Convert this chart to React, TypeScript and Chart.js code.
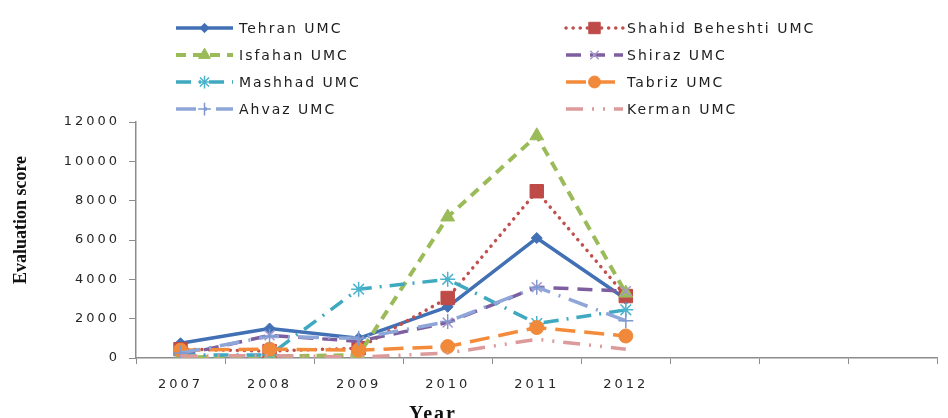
import React, { useEffect, useRef } from 'react';
import { Chart, registerables } from 'chart.js';
import { drawPoint } from 'chart.js/helpers';

Chart.register(...registerables);

// ---- data ----
const years = ['2007', '2008', '2009', '2010', '2011', '2012', '', '', ''];
const seriesNames = [
  'Tehran UMC',
  'Shahid Beheshti UMC',
  'Isfahan UMC',
  'Shiraz UMC',
  'Mashhad UMC',
  'Tabriz UMC',
  'Ahvaz UMC',
  'Kerman UMC',
];
const tehran = [750, 1500, 1000, 2600, 6100, 3000];
const shahidBeheshti = [450, 350, 500, 3050, 8480, 3150];
const isfahan = [30, 80, 150, 7170, 11300, 3300];
const shiraz = [150, 1150, 850, 1800, 3600, 3400];
const mashhad = [150, 150, 3500, 4000, 1750, 2450];
const tabriz = [400, 450, 400, 580, 1550, 1120];
const ahvaz = [250, 1100, 1000, 1850, 3600, 1900];
const kerman = [100, 120, 50, 250, 950, 450];
const yMin = 0;
const yMax = 12000;
const yStep = 2000;
const xTitle = 'Year';
const yTitle = 'Evaluation score';

const seriesValues = [tehran, shahidBeheshti, isfahan, shiraz, mashhad, tabriz, ahvaz, kerman];

// ---- styles ----
const styles: any[] = [
  { color: '#4170B4', width: 3.5, dash: [], cap: 'butt', point: 'rectRot', r: 5.5, pbg: '#4170B4', pbc: '#4170B4', pbw: 1 },
  { color: '#C0504D', width: 3.5, dash: [0.1, 7], cap: 'round', point: 'rect', r: 9.5, pbg: '#BE4B48', pbc: '#BE4B48', pbw: 1 },
  { color: '#9BBB59', width: 4, dash: [10, 7], cap: 'butt', point: 'triangle', r: 8, pbg: '#9BBB59', pbc: '#9BBB59', pbw: 1 },
  { color: '#7D5FA0', width: 3.5, dash: [15, 9], cap: 'butt', point: 'crossRot', r: 7, pbg: 'rgba(0,0,0,0)', pbc: '#A797CC', pbw: 1.5 },
  { color: '#3FA9C0', width: 3.5, dash: [15, 8, 2, 8], cap: 'butt', point: 'star', r: 7.5, pbg: 'rgba(0,0,0,0)', pbc: '#4BB3CC', pbw: 1.5 },
  { color: '#F38B3B', width: 3.5, dash: [20, 9], cap: 'butt', point: 'circle', r: 7, pbg: '#F0893A', pbc: '#F0893A', pbw: 1 },
  { color: '#8FA6D8', width: 3.5, dash: [20, 9, 2, 9], cap: 'butt', point: 'cross', r: 7.5, pbg: 'rgba(0,0,0,0)', pbc: '#7F98D0', pbw: 1.5 },
  { color: '#DC9A9A', width: 3.5, dash: [17, 9, 2, 9, 2, 9], cap: 'butt', point: false, r: 0, pbg: '#DC9A9A', pbc: '#DC9A9A', pbw: 0 },
];

const letterSpacingPlugin = {
  id: 'letterSpacingPlugin',
  beforeDraw(chart: any) {
    (chart.ctx as any).letterSpacing = '3px';
  },
};

const legendAndTitlesPlugin = {
  id: 'legendAndTitles',
  afterDraw(chart: any) {
    const ctx = chart.ctx as any;
    ctx.save();
    chart.data.datasets.forEach((ds: any, i: number) => {
      const col = i % 2;
      const row = Math.floor(i / 2);
      const x0 = col === 0 ? 176 : 566;
      const x1 = x0 + 57;
      const tx = col === 0 ? 239 : 627;
      const y = 28 + row * 27;
      ctx.save();
      ctx.strokeStyle = ds.borderColor;
      ctx.lineWidth = ds.borderWidth;
      ctx.setLineDash(ds.borderDash || []);
      ctx.lineCap = ds.borderCapStyle || 'butt';
      ctx.beginPath();
      ctx.moveTo(x0, y);
      ctx.lineTo(x1, y);
      ctx.stroke();
      ctx.restore();
      if (ds.pointStyle) {
        ctx.save();
        ctx.setLineDash([]);
        ctx.fillStyle = ds.pointBackgroundColor;
        ctx.strokeStyle = ds.pointBorderColor;
        ctx.lineWidth = ds.pointBorderWidth;
        drawPoint(ctx, { pointStyle: ds.pointStyle, radius: ds.pointRadius * 0.85, rotation: 0, borderWidth: ds.pointBorderWidth } as any, (x0 + x1) / 2, y);
        ctx.restore();
      }
      ctx.save();
      ctx.letterSpacing = '2px';
      ctx.font = '14px "DejaVu Sans"';
      ctx.textBaseline = 'middle';
      ctx.textAlign = 'left';
      ctx.fillStyle = '#1e1e1e';
      ctx.fillText(ds.label, tx, y + 1);
      ctx.restore();
    });

    // axis titles
    ctx.save();
    ctx.letterSpacing = '0px';
    ctx.fillStyle = '#111111';
    ctx.font = 'bold 18px "Liberation Serif"';
    ctx.textAlign = 'center';
    ctx.textBaseline = 'middle';
    ctx.translate(21, 220);
    ctx.rotate(-Math.PI / 2);
    ctx.fillText(yTitle, 0, 0);
    ctx.restore();

    ctx.save();
    ctx.letterSpacing = '2px';
    ctx.fillStyle = '#111111';
    ctx.font = 'bold 20px "Liberation Serif"';
    ctx.textAlign = 'center';
    ctx.textBaseline = 'alphabetic';
    ctx.fillText(xTitle, 433, 420);
    ctx.restore();

    ctx.restore();
  },
};

export default function App() {
  const canvasRef = useRef<HTMLCanvasElement | null>(null);

  useEffect(() => {
    if (!canvasRef.current) return;
    const datasets = seriesNames.map((name, i) => {
      const s = styles[i];
      return {
        label: name,
        data: seriesValues[i],
        borderColor: s.color,
        backgroundColor: s.color,
        borderWidth: s.width,
        borderDash: s.dash,
        borderCapStyle: s.cap,
        borderJoinStyle: 'round',
        pointStyle: s.point,
        pointRadius: s.r,
        pointBackgroundColor: s.pbg,
        pointBorderColor: s.pbc,
        pointBorderWidth: s.pbw,
        fill: false,
        tension: 0,
        order: seriesNames.length - i,
      };
    });

    const chart = new Chart(canvasRef.current, {
      type: 'line',
      data: { labels: years, datasets: datasets as any },
      options: {
        responsive: false,
        animation: false,
        events: [],
        layout: { padding: { top: 122, left: 0, right: 1, bottom: 0 } },
        plugins: { legend: { display: false }, tooltip: { enabled: false }, title: { display: false } },
        scales: {
          x: {
            type: 'category',
            offset: true,
            grid: { offset: true, drawOnChartArea: false, drawTicks: true, tickLength: 6, color: '#8c8c8c' },
            border: { color: '#8c8c8c', width: 1.5 },
            ticks: {
              autoSkip: false,
              maxRotation: 0,
              color: '#262626',
              font: { family: 'DejaVu Sans', size: 13 },
              padding: 13,
            },
            afterFit: (s: any) => {
              s.height = 60;
            },
          },
          y: {
            min: yMin,
            max: yMax,
            grid: { drawOnChartArea: false, drawTicks: true, tickLength: 7, color: '#8c8c8c' },
            border: { color: '#8c8c8c', width: 1.5 },
            ticks: {
              stepSize: yStep,
              color: '#262626',
              font: { family: 'DejaVu Sans', size: 13 },
              padding: 9,
              callback: (v: any) => String(v),
            },
            afterFit: (s: any) => {
              s.width = 136;
            },
          },
        },
      },
      plugins: [letterSpacingPlugin, legendAndTitlesPlugin],
    });
    return () => chart.destroy();
  }, []);

  return (
    <div style={{ position: 'fixed', left: 0, top: 0, width: 948, height: 418, background: '#ffffff' }}>
      <canvas ref={canvasRef} width={948} height={418} style={{ display: 'block' }} />
    </div>
  );
}
